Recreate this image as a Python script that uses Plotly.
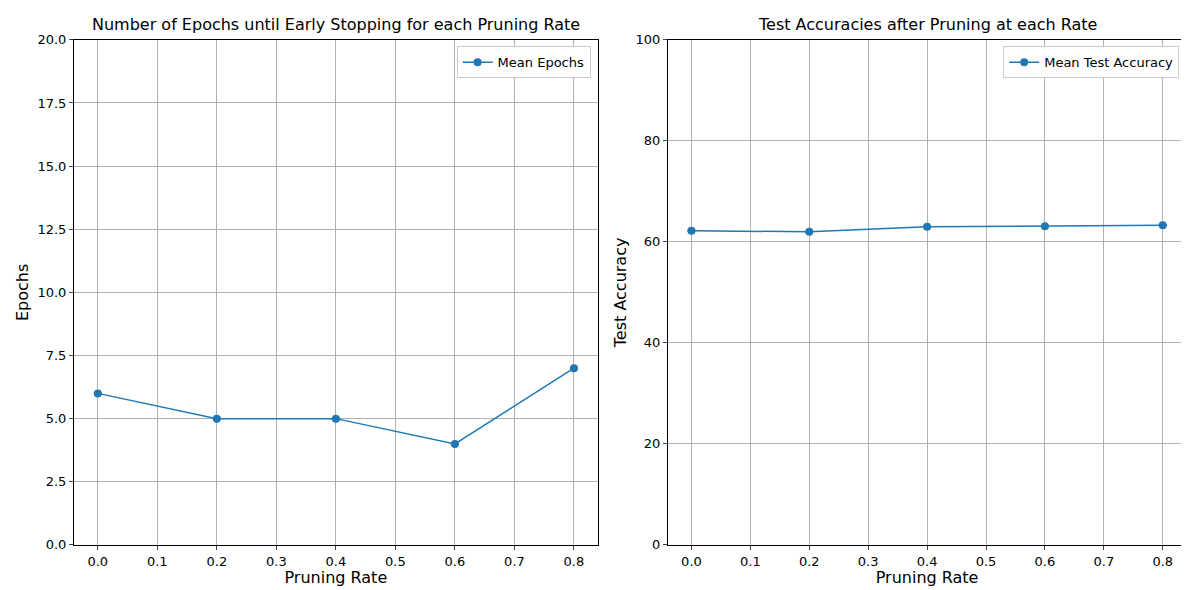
import plotly.graph_objects as go

rates = [0.0, 0.2, 0.4, 0.6, 0.8]
mean_epochs = [6, 5, 5, 4, 7]
mean_acc = [62.2, 62.0, 63.0, 63.1, 63.3]
xticks = [0, 0.1, 0.2, 0.3, 0.4, 0.5, 0.6, 0.7, 0.8]

blue = "#1f77b4"
fig = go.Figure()
fig.add_trace(go.Scatter(x=rates, y=mean_epochs, mode="lines+markers", name="Mean Epochs", showlegend=True,
                         line=dict(color=blue, width=1.5), marker=dict(size=8, color=blue),
                         error_y=dict(type="data", array=[0]*5, color=blue), xaxis="x", yaxis="y", legend="legend"))
fig.add_trace(go.Scatter(x=rates, y=mean_acc, mode="lines+markers", name="Mean Test Accuracy", showlegend=True,
                         line=dict(color=blue, width=1.5), marker=dict(size=8, color=blue),
                         error_y=dict(type="data", array=[0]*5, color=blue), xaxis="x2", yaxis="y2", legend="legend2"))

ax = dict(showline=True, linecolor="black", mirror=True, ticks="outside", ticklen=4, automargin=False,
          showgrid=True, gridcolor="#b0b0b0", zeroline=False, tickfont=dict(size=13))
fig.update_layout(
    width=1189, height=590, margin=dict(l=0, r=0, t=0, b=0, autoexpand=False),
    plot_bgcolor="white", paper_bgcolor="white",
    font=dict(family="DejaVu Sans", color="black", size=13),
    xaxis=dict(ax, domain=[0.0555, 0.496], range=[-0.04, 0.84], tickvals=xticks,
               ticktext=[f"{v:.1f}" for v in xticks], title=dict(text="Pruning Rate", standoff=4)),
    yaxis=dict(ax, domain=[0.09, 0.946], range=[0, 20], tickvals=[0, 2.5, 5, 7.5, 10, 12.5, 15, 17.5, 20],
               ticktext=["0.0", "2.5", "5.0", "7.5", "10.0", "12.5", "15.0", "17.5", "20.0"],
               title=dict(text="Epochs", standoff=4)),
    xaxis2=dict(ax, domain=[0.555, 0.991], range=[-0.04, 0.84], tickvals=xticks,
                ticktext=[f"{v:.1f}" for v in xticks], title=dict(text="Pruning Rate", standoff=4), anchor="y2"),
    yaxis2=dict(ax, domain=[0.09, 0.946], range=[0, 100], tickvals=[0, 20, 40, 60, 80, 100],
                title=dict(text="Test Accuracy", standoff=4), anchor="x2"),
    legend=dict(x=0.490, y=0.935, xanchor="right", yanchor="top", bordercolor="#cccccc", borderwidth=1,
                bgcolor="white", font=dict(size=13)),
    legend2=dict(x=0.985, y=0.935, xanchor="right", yanchor="top", bordercolor="#cccccc", borderwidth=1,
                 bgcolor="white", font=dict(size=13)),
    annotations=[
        dict(text="Number of Epochs until Early Stopping for each Pruning Rate", x=0.2758, y=0.952,
             xref="paper", yref="paper", xanchor="center", yanchor="bottom", showarrow=False, font=dict(size=16)),
        dict(text="Test Accuracies after Pruning at each Rate", x=0.773, y=0.952,
             xref="paper", yref="paper", xanchor="center", yanchor="bottom", showarrow=False, font=dict(size=16)),
    ],
)
fig.write_html("out.html")
